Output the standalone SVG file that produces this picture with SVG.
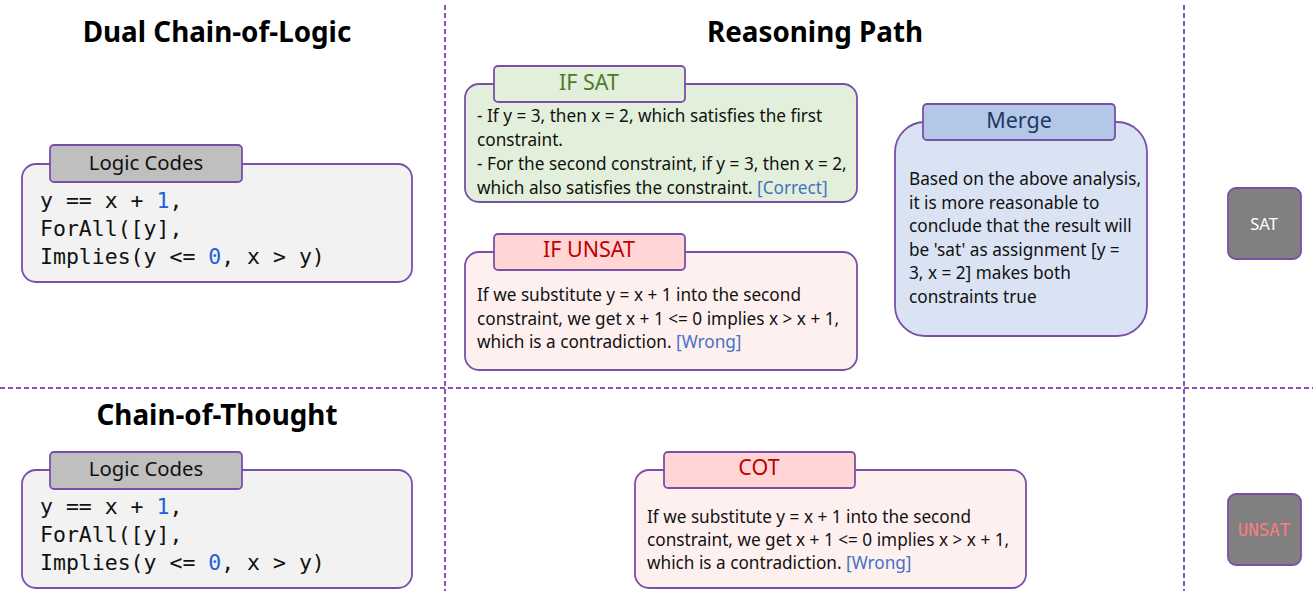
<svg xmlns="http://www.w3.org/2000/svg" width="1313" height="591" viewBox="0 0 1313 591">
<style>
.t{font-family:"Noto Sans","Open Sans",sans-serif;font-size:17.2px;fill:#111}
.title{font-family:"Noto Sans","Open Sans",sans-serif;font-size:27.8px;font-weight:bold;fill:#000;text-anchor:middle}
.hd{font-family:"Noto Sans","Open Sans",sans-serif;font-size:20.3px;text-anchor:middle}
.hd2{font-size:21.5px}
.code{font-family:"DejaVu Sans Mono","Liberation Mono",monospace;font-size:21.5px;fill:#111}
.num{fill:#1f5fe0}
.box{stroke:#7a4fa8;stroke-width:1.8}
.div{stroke:#8654bd;stroke-width:2;stroke-dasharray:5 3;fill:none}
.tag{fill:#4472c4}
</style>
<g id="dividers">
<line class="div" x1="445" y1="5" x2="445" y2="591"/>
<line class="div" x1="1184" y1="5" x2="1184" y2="591"/>
<line class="div" x1="0" y1="388" x2="1313" y2="388"/>
</g>
<g id="titles">
<text class="title" x="217" y="42">Dual Chain-of-Logic</text>
<text class="title" x="815" y="42">Reasoning Path</text>
<text class="title" x="217" y="425">Chain-of-Thought</text>
</g>
<g id="logic1">
<rect class="box" x="22" y="164" width="390" height="118" rx="14" fill="#f2f2f2"/>
<rect class="box" x="50" y="145" width="192" height="37" rx="4" fill="#bfbfbf"/>
<text class="hd" x="146" y="170" fill="#111">Logic Codes</text>
<text class="code" x="40" y="208">y == x + <tspan class="num">1</tspan>,</text>
<text class="code" x="40" y="236">ForAll([y],</text>
<text class="code" x="40" y="264">Implies(y &lt;= <tspan class="num">0</tspan>, x &gt; y)</text>
</g>
<g id="logic2">
<rect class="box" x="22" y="470" width="390" height="118" rx="14" fill="#f2f2f2"/>
<rect class="box" x="50" y="452" width="192" height="37" rx="4" fill="#bfbfbf"/>
<text class="hd" x="146" y="476" fill="#111">Logic Codes</text>
<text class="code" x="40" y="514">y == x + <tspan class="num">1</tspan>,</text>
<text class="code" x="40" y="542">ForAll([y],</text>
<text class="code" x="40" y="570">Implies(y &lt;= <tspan class="num">0</tspan>, x &gt; y)</text>
</g>
<g id="ifsat">
<rect class="box" x="465" y="84" width="392" height="118" rx="14" fill="#e2efda"/>
<rect class="box" x="494" y="66" width="191" height="36" rx="4" fill="#e2efda"/>
<text class="hd hd2" x="589" y="90" fill="#4e7a2a">IF SAT</text>
<text class="t" x="477" y="122">- If y = 3, then x = 2, which satisfies the first</text>
<text class="t" x="477" y="146">constraint.</text>
<text class="t" x="477" y="170">- For the second constraint, if y = 3, then x = 2,</text>
<text class="t" x="477" y="194">which also satisfies the constraint. <tspan class="tag">[Correct]</tspan></text>
</g>
<g id="ifunsat">
<rect class="box" x="465" y="252" width="392" height="118" rx="14" fill="#fff0f0"/>
<rect class="box" x="494" y="234" width="191" height="36" rx="4" fill="#ffd5d5"/>
<text class="hd hd2" x="589" y="257" fill="#c00000">IF UNSAT</text>
<text class="t" x="477" y="301">If we substitute y = x + 1 into the second</text>
<text class="t" x="477" y="325">constraint, we get x + 1 &lt;= 0 implies x &gt; x + 1,</text>
<text class="t" x="477" y="348">which is a contradiction. <tspan class="tag">[Wrong]</tspan></text>
</g>
<g id="merge">
<rect class="box" x="895" y="122" width="252" height="214" rx="30" fill="#dae3f3"/>
<rect class="box" x="923" y="104" width="192" height="36" rx="4" fill="#b4c7e7"/>
<text class="hd hd2" x="1019" y="128" fill="#203864">Merge</text>
<text class="t" x="909" y="185">Based on the above analysis,</text>
<text class="t" x="909" y="209">it is more reasonable to</text>
<text class="t" x="909" y="232">conclude that the result will</text>
<text class="t" x="909" y="256">be 'sat' as assignment [y =</text>
<text class="t" x="909" y="279">3, x = 2] makes both</text>
<text class="t" x="909" y="303">constraints true</text>
</g>
<g id="sat">
<rect class="box" x="1228" y="188" width="73" height="71" rx="8" fill="#808080"/>
<text x="1264" y="230" text-anchor="middle" font-family="Noto Sans,sans-serif" font-size="16.5" fill="#fff">SAT</text>
</g>
<g id="cot">
<rect class="box" x="635" y="470" width="391" height="118" rx="14" fill="#fff0f0"/>
<rect class="box" x="664" y="452" width="191" height="36" rx="4" fill="#ffd5d5"/>
<text class="hd hd2" x="759" y="475" fill="#c00000">COT</text>
<text class="t" x="647" y="523">If we substitute y = x + 1 into the second</text>
<text class="t" x="647" y="546">constraint, we get x + 1 &lt;= 0 implies x &gt; x + 1,</text>
<text class="t" x="647" y="569">which is a contradiction. <tspan class="tag">[Wrong]</tspan></text>
</g>
<g id="unsat">
<rect class="box" x="1228" y="494" width="73" height="71" rx="8" fill="#808080"/>
<text x="1264" y="536" text-anchor="middle" font-family="DejaVu Sans Mono,monospace" font-size="17.5" fill="#ff7c80">UNSAT</text>
</g>
<g id="connectors"></g>
</svg>
